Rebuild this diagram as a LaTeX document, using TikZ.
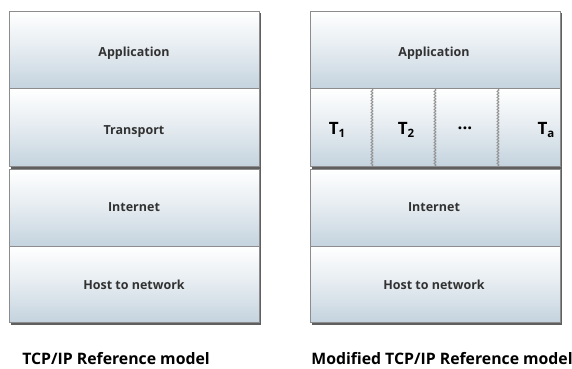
\documentclass[tikz,border=0pt]{standalone}
\usepackage{fontspec}
\setmainfont{Open Sans}
\usetikzlibrary{decorations.pathmorphing}
\definecolor{boxbot}{RGB}{196,211,222}
\definecolor{boxedge}{RGB}{140,140,140}
\definecolor{shade}{RGB}{95,95,95}
\definecolor{txt}{RGB}{50,50,50}
\tikzset{
  layer/.style={draw=boxedge, line width=0.8pt, top color=white, bottom color=boxbot, middle color=white!55!boxbot, minimum width=250pt, anchor=north west, inner sep=0pt},
  shadowbar/.style={draw=shade, line width=1.6pt},
  lbl/.style={font=\bfseries\fontsize{12.5}{14}\selectfont, text=txt},
  tlbl/.style={font=\bfseries\fontsize{17}{19}\selectfont, text=black},
  captext/.style={font=\bfseries\fontsize{15.8}{18}\selectfont, text=black, inner sep=0pt},
  divider/.style={draw=gray!85, line width=1pt, decorate, decoration={snake, amplitude=0.9pt, segment length=3pt}}
}
\newcommand{\tsub}[1]{\raisebox{-0.4ex}{\fontsize{11.5}{13}\selectfont #1}}
\begin{document}
\begin{tikzpicture}[x=1pt,y=-1pt]
\useasboundingbox (0,0) rectangle (572,368);
% shadows
\foreach \xa/\xb in {9/259, 310/560}{
  \draw[shadowbar] (\xb+1,13) -- (\xb+1,324) -- (\xa+2,324);
  \draw[shadowbar] (\xa+2,168) -- (\xb+1,168);
}
% left stack
\node[layer, minimum height=77pt] (lapp) at (9,11) {};
\node[layer, minimum height=78pt] (ltra) at (9,88) {};
\node[layer, minimum height=77pt] (lint) at (9,169) {};
\node[layer, minimum height=76pt] (lhost) at (9,246) {};
\node[lbl] (lappt) at (134,53.5) {Application};
\node[lbl] (ltrat) at (134,131.5) {Transport};
\node[lbl] (lintt) at (134,207) {Internet};
\node[lbl] (lhostt) at (134,284.5) {Host to network};
% right stack
\node[layer, minimum height=77pt] (rapp) at (310,11) {};
\node[layer, minimum height=78pt] (rtra) at (310,88) {};
\node[layer, minimum height=77pt] (rint) at (310,169) {};
\node[layer, minimum height=76pt] (rhost) at (310,246) {};
\node[lbl] (rappt) at (434,53.5) {Application};
\node[lbl] (rintt) at (434,207) {Internet};
\node[lbl] (rhostt) at (434,284.5) {Host to network};
% dividers
\coordinate (d1t) at (372,89); \coordinate (d1b) at (372,166);
\coordinate (d2t) at (435,89); \coordinate (d2b) at (435,166);
\coordinate (d3t) at (498,89); \coordinate (d3b) at (498,166);
\draw[divider] (d1t) -- (d1b);
\draw[divider] (d2t) -- (d2b);
\draw[divider] (d3t) -- (d3b);
\node[tlbl] (t1) at (337,130) {T\tsub{1}};
\node[tlbl] (t2) at (406,130) {T\tsub{2}};
\node[tlbl] (tdots) at (465,128) {...};
\node[tlbl] (ta) at (546,130) {T\tsub{a}};
% captions
\node[captext] (capl) at (116,358.5) {TCP/IP Reference model};
\node[captext] (capr) at (442,358.5) {Modified TCP/IP Reference model};
\end{tikzpicture}
\end{document}
